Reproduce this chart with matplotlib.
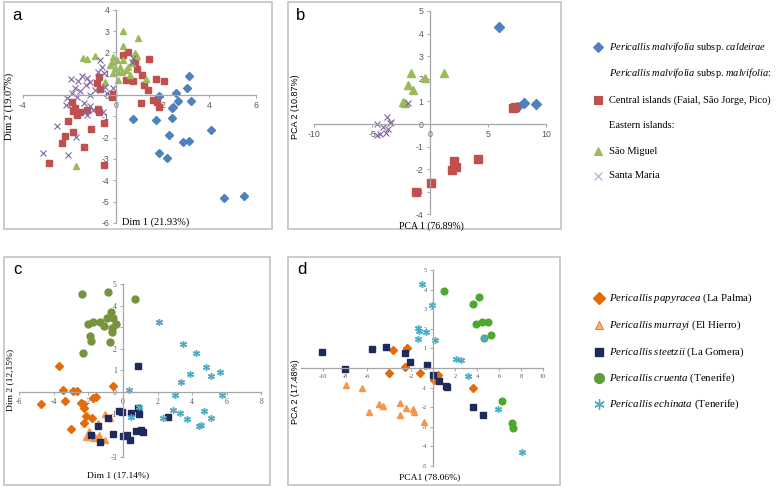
import matplotlib
matplotlib.use('Agg')
import matplotlib.pyplot as plt
from matplotlib.patches import Rectangle

plt.rcParams['mathtext.fontset'] = 'custom'
plt.rcParams['mathtext.rm'] = 'Liberation Serif'
plt.rcParams['mathtext.it'] = 'Liberation Serif:italic'
plt.rcParams['axes.unicode_minus'] = False

# ---- panel a (Azores, Dim 1 / Dim 2) ----
a_cald_x = [3.13, 3.05, 2.57, 1.85, 2.65, 3.2, 2.45, 2.4, 0.74, 1.7, 2.42, 2.28, 2.87, 3.14, 1.85, 2.17, 4.08, 4.64, 5.49]
a_cald_y = [0.89, 0.33, 0.09, -0.03, -0.27, -0.27, -0.55, -0.6, -1.13, -1.17, -1.08, -1.87, -2.2, -2.15, -2.7, -2.94, -1.62, -4.84, -4.74]
a_cent_x = [0.53, 0.31, 1.42, 0.82, 0.89, 0.74, 0.43, 1.13, 1.7, 2.07, 1.2, 1.39, 1.57, 1.75, 1.86, 1.06, -0.19, -0.14, -0.73, -0.8,
            -0.69, -1.9, -1.76, -1.69, -1.55, -1.26, -0.79, -0.72, -0.52, -2.05, -1.83, -2.19, -2.33, -1.09, -1.37, -2.86, -0.52, -1.66, -1.86]
a_cent_y = [2.0, 1.88, 1.67, 1.56, 1.22, 0.67, 0.7, 0.94, 0.75, 0.66, 0.47, 0.23, -0.23, -0.31, -0.55, -0.36, -0.08, 0.03, 0.83, 0.55,
            0.27, -0.31, -0.63, -0.86, -0.78, -0.7, -0.67, -0.78, -1.3, -1.22, -1.75, -1.92, -2.27, -1.61, -2.43, -3.18, -3.29, -0.94, -0.75]
a_smig_x = [0.31, 0.96, 0.31, -0.9, -1.4, -1.26, -0.12, 0.03, -0.19, -0.26, 0.17, -0.04, 0.1, 0.24, 0.43, 0.53, 0.67, 0.82, 0.89,
            0.1, -0.47, 1.29, 0.6, -1.72, 0.31, -0.12]
a_smig_y = [3.0, 2.69, 2.31, 1.85, 1.72, 1.67, 1.8, 1.64, 1.56, 1.41, 1.33, 1.25, 1.09, 1.09, 1.17, 1.33, 1.49, 1.96, 1.83,
            0.7, 0.62, 0.75, 0.94, -3.33, 1.64, 1.02]
a_smar_x = [-0.69, -0.61, -0.76, -0.5, -1.93, -1.62, -1.23, -1.12, -1.29, -1.76, -1.55, -1.9, -1.66, -1.12, -0.9, -0.47, -0.12, -0.4,
            -2.12, -2.15, -1.36, -1.12, -0.97, -1.23, -1.33, -0.55, -2.55, -1.72, -3.12, -2.05, -1.47, 0.74, 0.67]
a_smar_y = [1.64, 1.33, 1.09, 1.02, 0.75, 0.66, 0.78, 0.62, 0.47, 0.31, 0.2, 0.08, -0.08, 0.0, 0.23, 0.36, 0.31, 0.08,
            -0.16, -0.47, -0.39, -0.52, -0.7, -0.94, -0.78, -0.78, -1.44, -1.99, -2.71, -2.82, 0.89, 1.72, 1.56]

# ---- panel b (Azores, PCA) ----
b_cald_x = [5.98, 7.47, 8.13, 9.11]
b_cald_y = [4.31, 0.77, 0.94, 0.87]
b_cent_x = [7.13, 7.3, 2.07, 1.87, 2.24, 4.11, 0.09, -1.21]
b_cent_y = [0.72, 0.75, -1.64, -2.04, -1.89, -1.56, -2.62, -3.02]
b_smig_x = [-1.64, -0.43, 1.23, -1.87, -1.49, -2.35, -2.16]
b_smig_y = [2.24, 2.02, 2.27, 1.73, 1.5, 0.99, 0.94]
b_smar_x = [-1.87, -3.73, -4.54, -3.45, -4.02, -3.59, -3.79, -4.54, -4.31, -3.36]
b_smar_y = [0.91, 0.3, 0.0, 0.03, -0.15, -0.24, -0.38, -0.49, -0.44, 0.1]

# ---- panel c (Canaries, Dim 1 / Dim 2) ----
c_papy_x = [-3.7, -3.45, -2.91, -2.68, -3.35, -4.76, -2.43, -2.33, -2.25, -1.72, -1.56, -2.14, -1.81, -2.25, -3.01, -0.6]
c_papy_y = [1.2, 0.09, 0.05, 0.05, -0.42, -0.56, -0.52, -0.57, -0.73, -0.29, -0.22, -1.1, -1.22, -1.45, -1.73, 0.28]
c_murr_x = [-1.04, -0.75, -1.43, -1.95, -2.16, -1.62, -1.37, -1.04, -1.75]
c_murr_y = [-1.02, -1.19, -1.45, -1.79, -2.07, -2.07, -1.99, -2.22, -2.11]
c_stee_x = [0.85, -0.21, -0.08, 0.46, 0.85, 0.94, -0.85, -1.43, -1.85, -1.33, -0.6, -0.02, 0.21, 0.4, 0.75, 1.02, 1.14, 2.62]
c_stee_y = [1.19, -0.86, -0.91, -0.96, -0.73, -1.03, -1.22, -1.56, -1.99, -2.3, -1.96, -2.04, -1.99, -2.22, -1.81, -1.76, -1.84, -1.14]
c_crue_x = [-2.35, -0.85, 0.69, -2.04, -1.75, -1.33, -1.08, -0.91, -0.71, -0.56, -0.4, -0.65, -0.65, -1.91, -1.85, -0.75, -2.29]
c_crue_y = [4.52, 4.64, 4.29, 3.13, 3.25, 3.25, 3.07, 3.44, 3.69, 3.44, 3.13, 2.98, 2.79, 2.61, 2.36, 2.33, 1.82]
c_echi_x = [2.08, 3.49, 4.22, 3.87, 3.35, 0.37, 3.0, 0.94, 0.46, 2.29, 2.87, 3.29, 3.68, 4.41, 4.8, 5.09, 5.61, 5.74, 4.68, 5.09, 4.49]
c_echi_y = [3.25, 2.21, 1.79, 0.82, 0.45, 0.09, -0.14, -0.68, -1.14, -1.19, -0.83, -0.96, -1.26, -1.56, 1.14, 0.75, 0.94, -0.14, -0.88, -1.19, -1.53]

# ---- panel d (Canaries, PCA) ----
d_papy_x = [-3.67, -2.4, -2.55, -3.97, -1.18, 0.48, 0.12, 3.61, 0.09]
d_papy_y = [0.92, 1.04, 0.07, -0.24, -0.27, -0.36, -0.53, -1.0, -0.61]
d_murr_x = [-7.94, -6.48, -5.79, -4.91, -4.58, -3.0, -3.0, -2.45, -1.85, -1.73, -0.79]
d_murr_y = [-0.87, -1.04, -2.23, -1.84, -1.92, -1.77, -2.4, -2.06, -2.11, -2.23, -2.74]
d_stee_x = [-10.12, -8.0, -5.52, -4.3, -2.55, -2.09, -0.52, 0.03, 0.55, 1.15, 1.24, 3.61, 4.58]
d_stee_y = [0.83, -0.07, 0.95, 1.06, 0.75, 0.32, 0.15, -0.36, -0.65, -0.92, -0.98, -1.97, -2.4]
d_crue_x = [1.03, 4.18, 3.67, 3.88, 4.42, 4.97, 5.27, 4.67, 6.24, 7.21, 7.24]
d_crue_y = [3.93, 3.61, 3.27, 2.23, 2.36, 2.36, 1.68, 1.55, -1.68, -2.79, -3.08]
d_echi_x = [-0.97, -0.12, -1.34, -1.27, -0.66, -1.34, 0.18, 2.06, 2.55, 3.21, 4.67, 5.94, 8.12]
d_echi_y = [4.27, 3.21, 2.03, 1.89, 1.82, 1.46, 1.43, 0.44, 0.41, -0.39, 1.55, -2.11, -4.3]

# legend texts
top_legend = [
    ('D', r'$\mathit{Pericallis\ malvifolia}$ subsp. $\mathit{caldeirae}$'),
    (None, r'$\mathit{Pericallis\ malvifolia}$ subsp. $\mathit{malvifolia}$:'),
    ('s', 'Central islands (Faial, São Jorge, Pico)'),
    (None, 'Eastern islands:'),
    ('^', 'São Miguel'),
    ('x', 'Santa Maria'),
]
bottom_legend = [
    ('D', r'$\mathit{Pericallis\ papyracea}$ (La Palma)'),
    ('^', r'$\mathit{Pericallis\ murrayi}$ (El Hierro)'),
    ('s', r'$\mathit{Pericallis\ steetzii}$ (La Gomera)'),
    ('o', r'$\mathit{Pericallis\ cruenta}$ (Tenerife)'),
    ('*', r'$\mathit{Pericallis\ echinata}$ (Tenerife)'),
]

BLUE = '#4F81BD'
RED = '#C0504D'
GREEN = '#9BBB59'
PURPLE = '#8064A2'
ORANGE = '#E36C09'
LORANGE = '#F79646'
NAVY = '#1F2A5C'
CYAN = '#4BACC6'
STAR = (6, 2, 0)

W, H = 778, 487
fig = plt.figure(figsize=(W / 100, H / 100), dpi=100)

# overlay in pixel coords for frames, labels, legends
ov = fig.add_axes([0, 0, 1, 1])
ov.set_xlim(0, W)
ov.set_ylim(H, 0)
ov.axis('off')

for (x0, y0, x1, y1) in [(4, 2, 272, 229), (288, 2, 561, 229), (4, 257, 270, 485), (288, 257, 560, 485)]:
    ov.add_patch(Rectangle((x0, y0), x1 - x0, y1 - y0, fill=False, ec='#c4c4c4', lw=1.2))


def panel(xlim, ylim, x0, x1, ytop, ybot, xticks, yticks, tfont, tsize):
    ax = fig.add_axes([x0 / W, 1 - ybot / H, (x1 - x0) / W, (ybot - ytop) / H])
    ax.set_xlim(xlim)
    ax.set_ylim(ylim)
    ax.patch.set_alpha(0)
    ax.spines['top'].set_visible(False)
    ax.spines['right'].set_visible(False)
    ax.spines['left'].set_position('zero')
    ax.spines['bottom'].set_position('zero')
    for s in ['left', 'bottom']:
        ax.spines[s].set_color('#a6a6a6')
        ax.spines[s].set_linewidth(0.9)
    ax.set_xticks(xticks)
    ax.set_yticks(yticks)
    ax.tick_params(direction='out', length=2.5, width=0.7, color='#a6a6a6', labelcolor='#595959',
                   labelsize=tsize, pad=2, labelfontfamily=tfont)
    return ax


def pts(ax, x, y, m, c, ms, **kw):
    ax.plot(x, y, linestyle='none', marker=m, color=c, markersize=ms, clip_on=False, **kw)


# panel a
ax = panel((-4, 6), (-6, 4), 22.8, 255.8, 9.8, 222.8, [-4, -2, 0, 2, 4, 6], range(-6, 5), 'Liberation Sans', 6.3)
pts(ax, a_cald_x, a_cald_y, 'D', BLUE, 4.3)
pts(ax, a_cent_x, a_cent_y, 's', RED, 5)
pts(ax, a_smig_x, a_smig_y, '^', GREEN, 5)
pts(ax, a_smar_x, a_smar_y, 'x', PURPLE, 4.5, mew=0.8)

# panel b
ax = panel((-10, 10), (-4, 5), 314, 546, 11, 214.4, [-10, -5, 0, 5, 10], range(-4, 6), 'Liberation Sans', 6.3)
pts(ax, b_cald_x, b_cald_y, 'D', BLUE, 5)
pts(ax, b_cent_x, b_cent_y, 's', RED, 6)
pts(ax, b_smig_x, b_smig_y, '^', GREEN, 6)
pts(ax, b_smar_x, b_smar_y, 'x', PURPLE, 5, mew=0.8)

# panel c
ax = panel((-6, 8), (-3, 5), 19.2, 261.4, 284, 456.8, range(-6, 9, 2), range(-3, 6), 'Liberation Serif', 5.5)
pts(ax, c_papy_x, c_papy_y, 'D', ORANGE, 3.8)
pts(ax, c_murr_x, c_murr_y, '^', LORANGE, 4.2)
pts(ax, c_stee_x, c_stee_y, 's', NAVY, 4.8)
pts(ax, c_crue_x, c_crue_y, 'o', '#77933C', 5)
pts(ax, c_echi_x, c_echi_y, STAR, CYAN, 5, mew=1.0)

# panel d
ax = panel((-12, 10), (-5, 5), 301, 543, 270, 466, range(-10, 11, 2), range(-5, 6), 'Liberation Serif', 4.6)
pts(ax, d_papy_x, d_papy_y, 'D', ORANGE, 3.8)
pts(ax, d_murr_x, d_murr_y, '^', LORANGE, 4.2)
pts(ax, d_stee_x, d_stee_y, 's', NAVY, 4.8)
pts(ax, d_crue_x, d_crue_y, 'o', '#4EA72E', 4.8)
pts(ax, d_echi_x, d_echi_y, STAR, CYAN, 5, mew=1.0)

# panel letters
for lx, ly, t in [(17, 16, 'a'), (301, 15, 'b'), (17, 270, 'c'), (302, 270, 'd')]:
    ov.text(lx, ly, t, fontsize=12, family='Liberation Sans', ha='center', va='center')

# axis titles
serif = 'Liberation Serif'
ov.text(156, 222, 'Dim 1 (21.93%)', fontsize=7.5, family=serif, ha='center', va='center')
ov.text(9, 106, 'Dim 2 (19.07%)', fontsize=7.5, family=serif, ha='center', va='center', rotation=90)
ov.text(431, 226, 'PCA 1 (76.89%)', fontsize=7, family=serif, ha='center', va='center')
ov.text(296, 107, 'PCA 2 (10.87%)', fontsize=6.5, family='Liberation Sans', ha='center', va='center', rotation=90)
ov.text(118, 475, 'Dim 1 (17.14%)', fontsize=6.8, family=serif, ha='center', va='center')
ov.text(10, 380, 'Dim 2 (12,15%)', fontsize=6.8, family=serif, ha='center', va='center', rotation=90)
ov.text(430, 477, 'PCA1 (78.06%)', fontsize=6.8, family=serif, ha='center', va='center')
ov.text(296, 392, 'PCA 2 (17.48%)', fontsize=6.5, family='Liberation Sans', ha='center', va='center', rotation=90)

# legends
top_style = {'D': (BLUE, 5.5), 's': (RED, 6), '^': (GREEN, 6), 'x': ('#b3a6cf', 6)}
for (m, txt), ly in zip(top_legend, [47, 73, 100, 126, 151, 176]):
    if m is not None:
        c, ms = top_style[m]
        ov.plot([598], [ly], linestyle='none', marker=m, color=c, markersize=ms, mew=0.8)
    ov.text(609, ly, txt, fontsize=7.5, family=serif, ha='left', va='center')

bot_style = {'D': (ORANGE, 6.5, {}), '^': ('#F7B27A', 6, {'mec': '#E36C09', 'mew': 0.6}),
             's': (NAVY, 6, {}), 'o': ('#5E9C3C', 7, {}), '*': (CYAN, 7.5, {'mew': 1.0})}
for (m, txt), ly in zip(bottom_legend, [298, 325, 352, 378, 404]):
    c, ms, kw = bot_style[m]
    mk = STAR if m == '*' else m
    ov.plot([599], [ly], linestyle='none', marker=mk, color=c, markersize=ms, **kw)
    ov.text(609, ly, txt, fontsize=7.8, family=serif, ha='left', va='center')

fig.savefig('out.png', dpi=100)
